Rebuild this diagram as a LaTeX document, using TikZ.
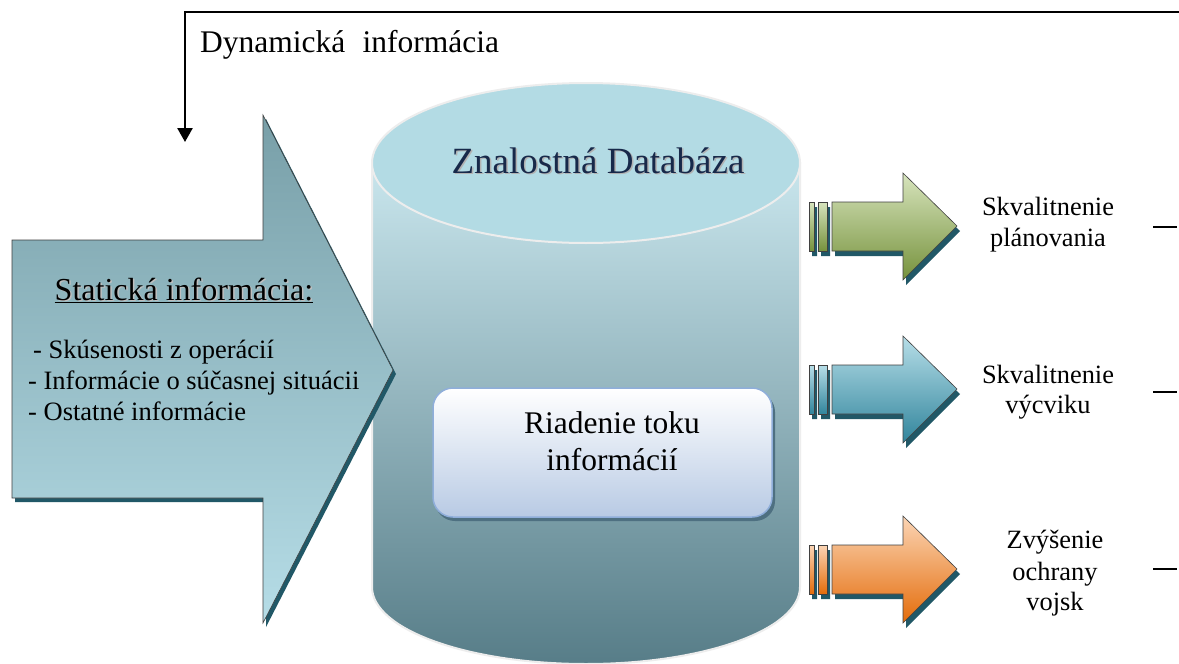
\documentclass[tikz,border=0pt]{standalone}
\usepackage{fontspec}
\setmainfont{Liberation Serif}[Ligatures=TeX]
\newfontfamily\timesfont{Liberation Serif}
\usetikzlibrary{arrows.meta}

\definecolor{shadowteal}{HTML}{215867}
\definecolor{bigtop}{HTML}{789FA8}
\definecolor{bigbot}{HTML}{B6DDE7}
\definecolor{cyltop}{HTML}{C9E6ED}
\definecolor{cylbot}{HTML}{577D88}
\definecolor{lidfill}{HTML}{B3DBE4}
\definecolor{rimgray}{HTML}{EDEDED}
\definecolor{dbtext}{HTML}{17294A}
\definecolor{boxbot}{HTML}{B8CAE4}
\definecolor{boxline}{HTML}{8FAEDA}
\definecolor{boxshadow}{HTML}{4E7081}
\definecolor{greentop}{HTML}{D7E4BD}
\definecolor{greenbot}{HTML}{76923C}
\definecolor{bluetop}{HTML}{B7DEE8}
\definecolor{bluebot}{HTML}{31859C}
\definecolor{orangetop}{HTML}{FBD5B5}
\definecolor{orangebot}{HTML}{E46C0A}

\tikzset{
  outline/.style={draw=black!75, line width=0.6},
  bigtxt/.style={font=\timesfont\fontsize{32}{38}\selectfont, inner sep=0},
  listtxt/.style={font=\timesfont\fontsize{26.5}{31}\selectfont, inner sep=0, anchor=base west},
  lbl/.style={font=\timesfont\fontsize{26.4}{31}\selectfont, inner sep=0, anchor=base},
}

% one output arrow with its two stripes; #1 centre y, #2/#3 gradient colours
\newcommand\outarrow[3]{%
  \begin{scope}[shift={(0,#1)}]
    \fill[shadowteal, shift={(3,5)}]
      (809,-24) rectangle (814,25)
      (818,-24) rectangle (827,25)
      (832,-24) -- (903,-24) -- (903,-53) -- (957,0) -- (903,54) -- (903,25) -- (832,25) -- cycle;
    \shade[top color=#2, bottom color=#3, outline] (809,-24) rectangle (814,25);
    \shade[top color=#2, bottom color=#3, outline] (818,-24) rectangle (827,25);
    \shade[top color=#2, bottom color=#3, outline]
      (832,-24) -- (903,-24) -- (903,-53) -- (957,0) -- (903,54) -- (903,25) -- (832,25) -- cycle;
  \end{scope}}

\begin{document}
\begin{tikzpicture}[x=1pt, y=-1pt]
  \useasboundingbox[fill=white] (0,0) rectangle (1179,664);

  % feedback line carrying the dynamic information
  \coordinate (dynStart) at (1179,12);
  \coordinate (dynEnd) at (185,142);
  \draw[line width=2.6, -{Triangle[width=15pt,length=14pt]}] (dynStart) -| (dynEnd);
  \node[font=\timesfont\fontsize{31.5}{37}\selectfont, inner sep=0, anchor=base west] (dynText) at (200,52)
    {Dynamická\hspace{0.55em}informácia};

  % knowledge database cylinder
  \shade[top color=cyltop, bottom color=cylbot, draw=rimgray, line width=2]
    (372,163) -- (372,587) arc[start angle=180, end angle=0, x radius=214, y radius=77]
    -- (800,163) -- cycle;
  \fill[lidfill, draw=rimgray, line width=2] (586,163) ellipse[x radius=214, y radius=80];
  \node[font=\timesfont\fontsize{37}{44}\selectfont, inner sep=0, anchor=base, text=black!30] at (599.5,174.5)
    {Znalostná Databáza};
  \node[font=\timesfont\fontsize{37}{44}\selectfont, inner sep=0, anchor=base, text=dbtext] (dbTitle) at (598,173)
    {Znalostná Databáza};

  % large input arrow (static information), lying over the cylinder
  \fill[shadowteal, shift={(3,4)}]
    (12,240) -- (263,240) -- (263,115) -- (393,370) -- (263,623) -- (263,498) -- (12,498) -- cycle;
  \shade[top color=bigtop, bottom color=bigbot, outline]
    (12,240) -- (263,240) -- (263,115) -- (393,370) -- (263,623) -- (263,498) -- (12,498) -- cycle;
  \node[bigtxt, anchor=base, text=black!25] at (185.5,301.5) {Statická informácia:};
  \node[bigtxt, anchor=base] (statTitle) at (184,300) {\underline{Statická informácia:}};
  \node[listtxt] (stat1) at (33,358) {- Skúsenosti z operácií};
  \node[listtxt] (stat2) at (28,389) {- Informácie o súčasnej situácii};
  \node[listtxt] (stat3) at (28,420) {- Ostatné informácie};

  % information flow control box
  \fill[boxshadow, rounded corners=20] (435,392) rectangle (775,521);
  \shade[top color=white, bottom color=boxbot, draw=boxline, line width=1.5, rounded corners=20]
    (433,388) rectangle (772,517);
  \node[font=\timesfont\fontsize{31.5}{37}\selectfont, inner sep=0, anchor=base] (flow1) at (612,433) {Riadenie toku};
  \node[font=\timesfont\fontsize{31.5}{37}\selectfont, inner sep=0, anchor=base] (flow2) at (612,470) {informácií};

  % output arrows
  \outarrow{226}{greentop}{greenbot}
  \outarrow{389}{bluetop}{bluebot}
  \outarrow{569}{orangetop}{orangebot}

  % output labels
  \node[lbl] (plan1) at (1048,215) {Skvalitnenie};
  \node[lbl] (plan2) at (1048,246) {plánovania};
  \node[lbl] (train1) at (1048,383) {Skvalitnenie};
  \node[lbl] (train2) at (1048,413) {výcviku};
  \node[lbl] (prot1) at (1055,548) {Zvýšenie};
  \node[lbl] (prot2) at (1055,580) {ochrany};
  \node[lbl] (prot3) at (1055,610) {vojsk};

  % short dashes at the right edge
  \draw[line width=1.2] (1153,227) -- (1177,227);
  \draw[line width=1.2] (1153,392) -- (1177,392);
  \draw[line width=1.2] (1153,569) -- (1177,569);
\end{tikzpicture}
\end{document}
